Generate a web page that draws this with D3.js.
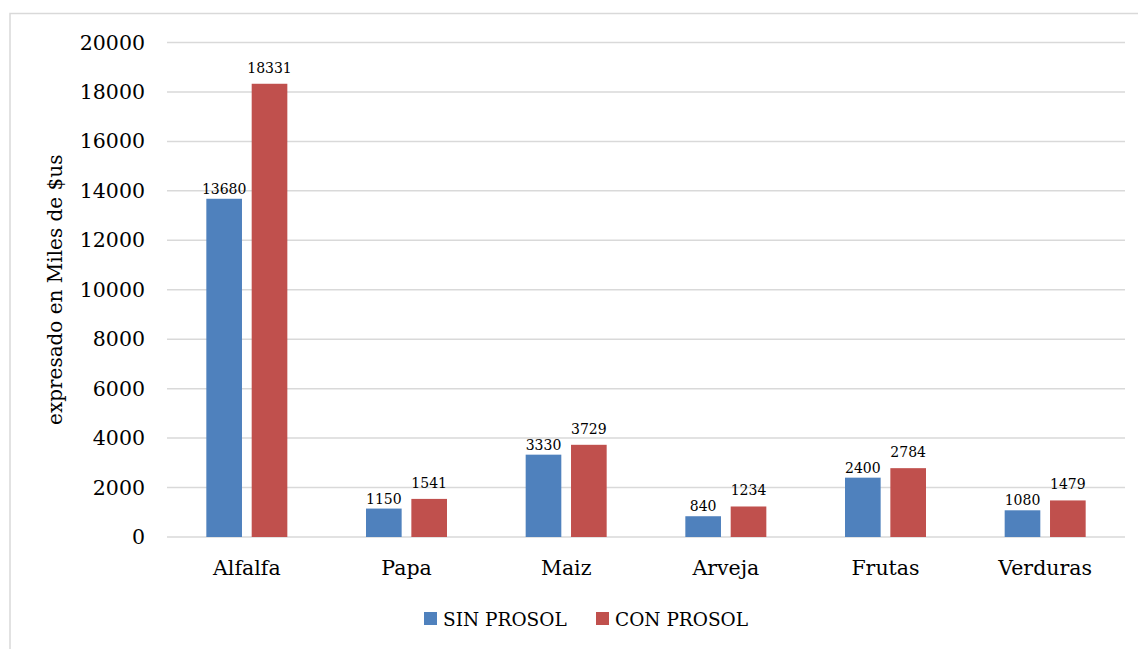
<!DOCTYPE html>
<html>
<head>
<meta charset="utf-8">
<script src="https://cdn.jsdelivr.net/npm/d3@7"></script>
<style>
  html, body { margin: 0; padding: 0; background: #fff; }
  svg { display: block; }
  text { font-family: "DejaVu Serif", "Liberation Serif", serif; fill: #000; }
</style>
</head>
<body>
<svg id="chart" width="1138" height="649"></svg>
<script>
const categories = ["Alfalfa", "Papa", "Maiz", "Arveja", "Frutas", "Verduras"];
const seriesNames = ["SIN PROSOL", "CON PROSOL"];
const sinProsol = [13680, 1150, 3330, 840, 2400, 1080];
const conProsol = [18331, 1541, 3729, 1234, 2784, 1479];
const yTicks = [0, 2000, 4000, 6000, 8000, 10000, 12000, 14000, 16000, 18000, 20000];
const yTitle = "expresado en Miles de $us";
const colors = ["#4F81BD", "#C0504D"];

const svg = d3.select("#chart");

// outer chart border
svg.append("rect")
  .attr("x", 10).attr("y", 13.5)
  .attr("width", 1140).attr("height", 650)
  .attr("fill", "none").attr("stroke", "#D9D9D9").attr("stroke-width", 1.5);

const plot = { left: 167, right: 1125, top: 42.5, bottom: 537 };

const x = d3.scaleBand().domain(categories).range([plot.left, plot.right]).padding(0);
const y = d3.scaleLinear().domain([0, 20000]).range([plot.bottom, plot.top]);

const groupW = 81;
const xs = d3.scaleBand().domain(seriesNames).range([-groupW / 2, groupW / 2]).paddingInner(0.214).paddingOuter(0);

// gridlines
svg.append("g").selectAll("line").data(yTicks).join("line")
  .attr("x1", plot.left).attr("x2", plot.right)
  .attr("y1", d => y(d)).attr("y2", d => y(d))
  .attr("stroke", "#D9D9D9").attr("stroke-width", 1.5);

// y axis labels
const yAxis = d3.axisLeft(y).tickValues(yTicks).tickSize(0).tickPadding(0).tickFormat(d3.format("d"));
const yg = svg.append("g").attr("transform", `translate(145,0)`).call(yAxis);
yg.select(".domain").remove();
yg.selectAll("text").style("font-family", '"DejaVu Serif", serif').style("font-size", "20.5px").attr("fill", "#000");

// x axis labels
const xAxis = d3.axisBottom(x).tickSize(0).tickPadding(0);
const xg = svg.append("g").attr("transform", `translate(0,${plot.bottom})`).call(xAxis);
xg.select(".domain").remove();
xg.selectAll("text").attr("dy", null).attr("y", 38)
  .style("font-family", '"DejaVu Serif", serif').style("font-size", "20.5px").attr("fill", "#000");

// bars
const data = [sinProsol, conProsol];
const labelGap = [5, 11];
data.forEach((vals, si) => {
  const g = svg.append("g");
  g.selectAll("rect").data(vals).join("rect")
    .attr("x", (d, i) => x(categories[i]) + x.bandwidth() / 2 + xs(seriesNames[si]))
    .attr("width", xs.bandwidth())
    .attr("y", d => y(d))
    .attr("height", d => y(0) - y(d))
    .attr("fill", colors[si]);
  g.selectAll("text").data(vals).join("text")
    .attr("x", (d, i) => x(categories[i]) + x.bandwidth() / 2 + xs(seriesNames[si]) + xs.bandwidth() / 2)
    .attr("y", d => y(d) - labelGap[si])
    .attr("text-anchor", "middle")
    .style("font-size", "14px")
    .text(d => d);
});

// y title
svg.append("text")
  .attr("transform", `translate(62,${(plot.top + plot.bottom) / 2}) rotate(-90)`)
  .attr("text-anchor", "middle")
  .style("font-size", "20px")
  .text(yTitle);

// legend
const legendX = [424, 596];
const lg = svg.append("g");
seriesNames.forEach((s, i) => {
  lg.append("rect").attr("x", legendX[i]).attr("y", 612).attr("width", 13).attr("height", 13).attr("fill", colors[i]);
  lg.append("text").attr("x", legendX[i] + 19).attr("y", 626).style("font-size", "18.5px").text(s);
});
</script>
</body>
</html>
